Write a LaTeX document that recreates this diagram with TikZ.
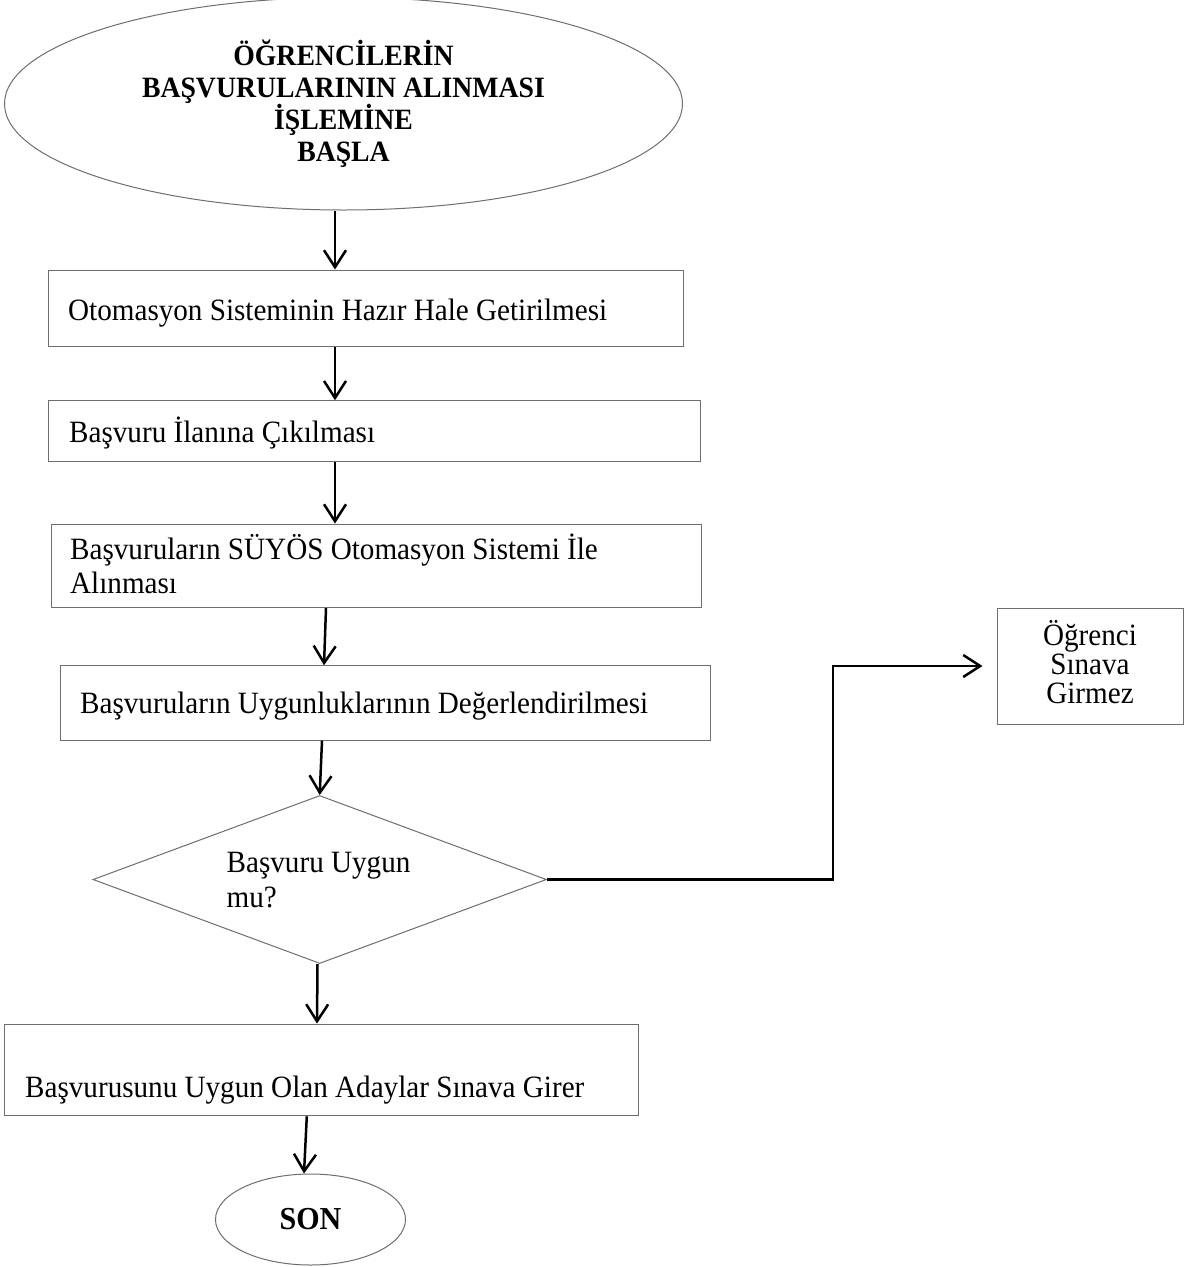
\documentclass[tikz,border=0pt]{standalone}
\usepackage{fontspec}
\setmainfont{Liberation Serif}[FakeStretch=0.94]
\usetikzlibrary{shapes.geometric,arrows.meta}
\definecolor{linegray}{RGB}{110,110,110}
\begin{document}
\begin{tikzpicture}[x=1pt,y=-1pt,
  shapeline/.style={draw=linegray, line width=1pt},
  box/.style={shapeline, rectangle, inner sep=0pt},
  txt/.style={inner sep=0pt, font=\fontsize{31}{35}\selectfont, anchor=base west},
  ctxt/.style={inner sep=0pt, font=\fontsize{31}{35}\selectfont, anchor=base},
  arr/.style={line width=2.5pt, -{Straight Barb[length=17pt,width=22pt]}}]
\fill[white] (0,0) rectangle (1184,1267);
\useasboundingbox (0,0) rectangle (1184,1267);

% start ellipse
\node[ellipse, shapeline, minimum width=678pt, minimum height=212.6pt, inner sep=0pt,
      align=center, font=\bfseries\fontsize{29.5}{32}\selectfont] (start) at (343.5,103.7)
  {ÖĞRENCİLERİN\\BAŞVURULARININ ALINMASI\\İŞLEMİNE\\BAŞLA};

% boxes
\node[box, minimum width=634.3pt, minimum height=76pt] (b1) at (365.9,308) {};
\node[box, minimum width=651.3pt, minimum height=60.3pt] (b2) at (374.4,430.9) {};
\node[box, minimum width=650pt, minimum height=83.5pt] (b3) at (376,565.8) {};
\node[box, minimum width=649.2pt, minimum height=74.3pt] (b4) at (385.4,702.9) {};
\node[diamond, shapeline, minimum width=453.5pt, minimum height=168pt, inner sep=0pt, aspect=2.7] (dec) at (319.7,879.5) {};
\node[box, minimum width=634.5pt, minimum height=91.7pt] (b6) at (321.3,1069.9) {};
\node[box, minimum width=186pt, minimum height=116pt] (b5) at (1090,666) {};

% end ellipse
\node[ellipse, shapeline, minimum width=190pt, minimum height=91pt, inner sep=0pt,
      font=\bfseries\fontsize{32}{35}\selectfont] (end) at (310.5,1219.5) {SON};

% texts
\node[txt] (t1) at (68,320) {Otomasyon Sisteminin Hazır Hale Getirilmesi};
\node[txt] (t2) at (69,442) {Başvuru İlanına Çıkılması};
\node[txt] (t3a) at (70,559) {Başvuruların SÜYÖS Otomasyon Sistemi İle};
\node[txt] (t3b) at (70,593) {Alınması};
\node[txt] (t4) at (80,713) {Başvuruların Uygunluklarının Değerlendirilmesi};
\node[txt] (t5a) at (226.5,872.5) {Başvuru Uygun};
\node[txt] (t5b) at (226.5,907.5) {mu?};
\node[txt] (t6) at (25,1097) {Başvurusunu Uygun Olan Adaylar Sınava Girer};
\node[ctxt] (r1) at (1090,645) {Öğrenci};
\node[ctxt] (r2) at (1090,674) {Sınava};
\node[ctxt] (r3) at (1090,703) {Girmez};

% connectors
\draw[arr] ([xshift=-8.5pt]start.south) -- ([xshift=-30.9pt]b1.north);
\draw[arr] ([xshift=-30.9pt]b1.south) -- ([xshift=-39.4pt]b2.north);
\draw[arr] ([xshift=-39.4pt]b2.south) -- ([xshift=-41pt]b3.north);
\draw[arr] ([xshift=-50pt]b3.south) -- ([xshift=-61.4pt]b4.north);
\draw[arr] ([xshift=-63.4pt]b4.south) -- (dec.north);
\draw[arr] ([xshift=-2.2pt]dec.south) -- ([xshift=-4.3pt]b6.north);
\draw[arr] ([xshift=-14.5pt]b6.south) -- ([xshift=-6.5pt]end.north);
\coordinate (bend) at (833,667);
\draw[arr] (dec.east) -- (dec.east -| bend) |- ([xshift=-14pt]b5.west);
\end{tikzpicture}
\end{document}
